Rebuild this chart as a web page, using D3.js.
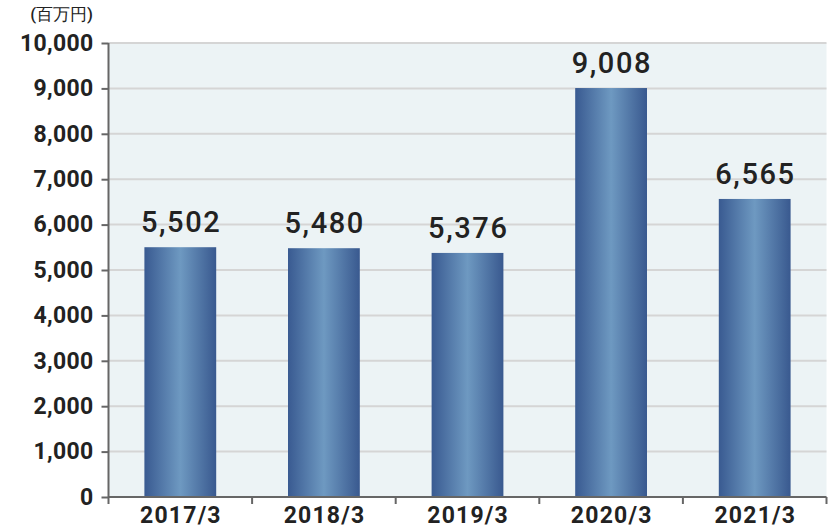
<!DOCTYPE html>
<html><head><meta charset="utf-8">
<script src="https://cdn.jsdelivr.net/npm/d3@7"></script>
<style>
body{margin:0;background:#fff;}
svg{display:block;font-family:Roboto,"Noto Sans",sans-serif;}
</style></head>
<body>
<svg id="chart" width="830" height="530"></svg>
<script>
const categories = ["2017/3","2018/3","2019/3","2020/3","2021/3"];
const values = [5502,5480,5376,9008,6565];
const yTicks = [0,1000,2000,3000,4000,5000,6000,7000,8000,9000,10000];
const unitLabel = "(百万円)";

const svg = d3.select("#chart");
const pLeft = 108.5, pRight = 826.5, pTop = 43, pBottom = 497;

const x = d3.scaleBand().domain(categories).range([pLeft,pRight]).paddingInner(0.5).paddingOuter(0.25);
const y = d3.scaleLinear().domain([0,10000]).range([pBottom,pTop]);

const defs = svg.append("defs");
const g = defs.append("linearGradient").attr("id","barGrad").attr("x1","0").attr("x2","1").attr("y1","0").attr("y2","0");
g.append("stop").attr("offset","0%").attr("stop-color","#395a91");
g.append("stop").attr("offset","50%").attr("stop-color","#6e99c1");
g.append("stop").attr("offset","100%").attr("stop-color","#39598f");

svg.append("rect").attr("x",pLeft).attr("y",pTop).attr("width",pRight-pLeft).attr("height",pBottom-pTop).attr("fill","#ecf3f5");

svg.append("g").selectAll("line").data(yTicks.filter(d=>d>0)).join("line")
  .attr("x1",pLeft).attr("x2",pRight).attr("y1",d=>y(d)).attr("y2",d=>y(d))
  .attr("stroke","#d5d5d5").attr("stroke-width",2);

svg.append("g").selectAll("rect").data(values).join("rect")
  .attr("x",(d,i)=>x(categories[i])).attr("width",x.bandwidth())
  .attr("y",d=>y(d)).attr("height",d=>pBottom-y(d))
  .attr("fill","url(#barGrad)");

svg.append("g").selectAll("text").data(values).join("text")
  .attr("x",(d,i)=>x(categories[i])+x.bandwidth()/2+0.8).attr("y",d=>y(d)-15)
  .attr("text-anchor","middle").attr("font-size",29).attr("font-weight",500)
  .attr("letter-spacing",1.6)
  .attr("fill","#222").text(d=>d3.format(",")(d));

const yAxis = svg.append("g").attr("transform",`translate(${pLeft},0)`)
  .call(d3.axisLeft(y).tickValues(yTicks).tickFormat(d3.format(",")).tickSize(7).tickPadding(8));
yAxis.selectAll("text").attr("font-size",23).attr("font-weight",700).attr("fill","#222").attr("font-family","Roboto").attr("letter-spacing",0.3);
yAxis.selectAll("line,path").attr("stroke","#666").attr("stroke-width",2);
yAxis.select(".domain").attr("d",`M0,${pTop}V${pBottom}`);

const xAxis = svg.append("g").attr("transform",`translate(0,${pBottom})`)
  .call(d3.axisBottom(x).tickSize(0).tickPadding(10));
xAxis.selectAll("text").attr("font-size",23).attr("font-weight",700).attr("fill","#222").attr("font-family","Roboto")
  .attr("letter-spacing",1.2).attr("dx",0.6);
xAxis.select(".domain").attr("stroke","#666").attr("stroke-width",2).attr("d",`M${pLeft},0H${pRight}`);
const bounds = [pLeft].concat(categories.map(c=>x(c)+x.bandwidth()+x.step()*0.25));
xAxis.selectAll(".sep").data(bounds).join("line").attr("class","sep")
  .attr("x1",d=>d).attr("x2",d=>d).attr("y1",0).attr("y2",7).attr("stroke","#666").attr("stroke-width",2);

svg.append("text").attr("x",93).attr("y",20).attr("text-anchor","end")
  .attr("font-size",17).attr("font-weight",500).attr("fill","#222").text(unitLabel);
</script>
</body></html>
